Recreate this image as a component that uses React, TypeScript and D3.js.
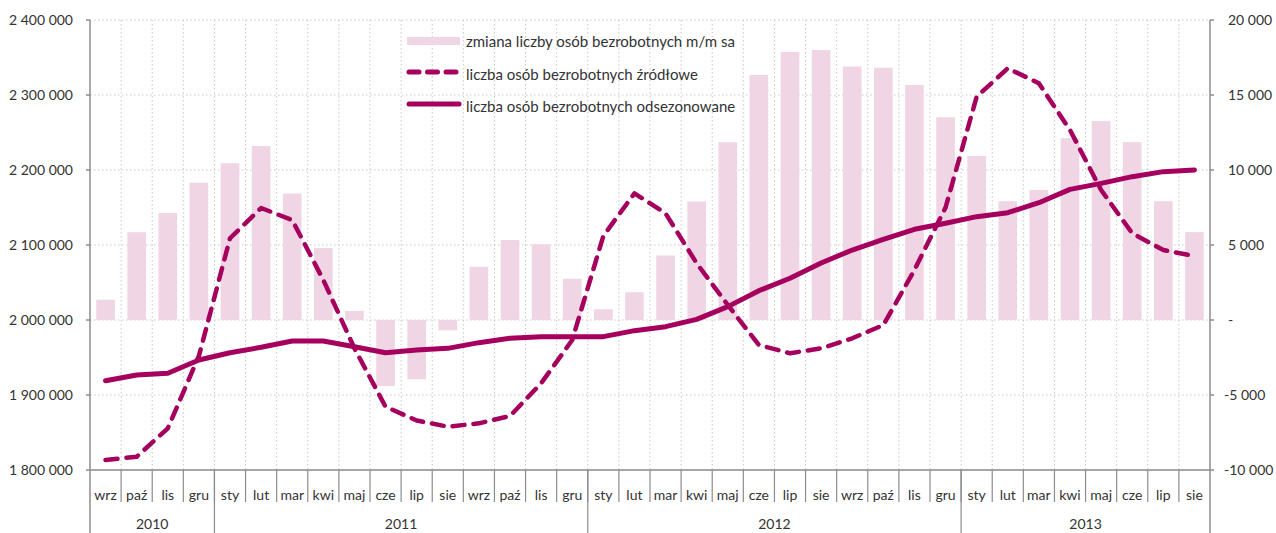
import React from "react";
import * as d3 from "d3";

const months = ["wrz","paź","lis","gru","sty","lut","mar","kwi","maj","cze","lip","sie","wrz","paź","lis","gru","sty","lut","mar","kwi","maj","cze","lip","sie","wrz","paź","lis","gru","sty","lut","mar","kwi","maj","cze","lip","sie"];
const years = [
  { label: "2010", start: 0, end: 4 },
  { label: "2011", start: 4, end: 16 },
  { label: "2012", start: 16, end: 28 },
  { label: "2013", start: 28, end: 36 },
];
// zmiana liczby osób bezrobotnych m/m sa (right axis)
const changeMM = [1350,5850,7130,9150,10450,11600,8430,4800,600,-4400,-3950,-690,3550,5330,5050,2750,720,1850,4300,7900,11850,16330,17870,18000,16900,16820,15670,13520,10940,7920,8670,12120,13260,11860,7920,5860];
// liczba osób bezrobotnych źródłowe (left axis)
const rawSeries = [1813300,1817700,1855600,1952000,2109000,2149300,2133300,2053300,1962200,1884400,1866000,1857800,1862200,1872000,1915600,1973300,2112000,2168900,2142200,2075600,2020000,1966700,1955600,1962200,1975600,1993300,2066700,2150000,2297800,2335600,2315600,2253300,2173300,2115600,2093300,2085300];
// liczba osób bezrobotnych odsezonowane (left axis)
const saSeries = [1919100,1926700,1928900,1946700,1956400,1963600,1972000,1972000,1964400,1956400,1960000,1962200,1969800,1975600,1977800,1977800,1977800,1985800,1991100,2000900,2017800,2039100,2055600,2076000,2093300,2107600,2120900,2128900,2137800,2143100,2156400,2174200,2182200,2191100,2197800,2200000];
const leftTicks = [1800000,1900000,2000000,2100000,2200000,2300000,2400000];
const rightTicks = [-10000,-5000,0,5000,10000,15000,20000];
const legendLabels = ["zmiana liczby osób bezrobotnych m/m sa","liczba osób bezrobotnych źródłowe","liczba osób bezrobotnych odsezonowane"];

const W = 1276, H = 533;
const L = 90, R = 1210, T = 20, B = 470;
const LINE = "#a6005f";
const BAR = "#f0d5e5";
const GRID = "#c8c8c8";
const AXIS = "#8c8c8c";
const TEXT = "#333333";
const FONT = "Lato, 'Open Sans', sans-serif";

const fmt = (v: number) => {
  if (v === 0) return "-";
  const s = Math.abs(v).toString().replace(/\B(?=(\d{3})+(?!\d))/g, " ");
  return (v < 0 ? "-" : "") + s;
};

export default function App() {
  const x = d3.scaleBand<number>().domain(d3.range(months.length)).range([L, R]).paddingInner(0).paddingOuter(0);
  const bw = x.bandwidth();
  const yL = d3.scaleLinear().domain([1800000, 2400000]).range([B, T]);
  const yR = d3.scaleLinear().domain([-10000, 20000]).range([B, T]);
  const cx = (i: number) => (x(i) as number) + bw / 2;
  const line = d3.line<number>().x((_, i) => cx(i)).y((d) => yL(d)).curve(d3.curveLinear);
  const barW = bw * 0.6;

  return (
    <svg width={W} height={H} style={{ position: "absolute", left: 0, top: 0, background: "#fff" }} fontFamily={FONT}>
      {/* grid */}
      {leftTicks.map((t) => (
        <line key={"h" + t} x1={L} x2={R} y1={yL(t)} y2={yL(t)} stroke={GRID} strokeWidth={1} strokeDasharray="1.5,2.5" />
      ))}
      {d3.range(1, months.length).map((i) => (
        <line key={"v" + i} x1={x(i) as number} x2={x(i) as number} y1={T} y2={B} stroke={GRID} strokeWidth={1} strokeDasharray="1.5,2.5" />
      ))}
      {/* bars */}
      {changeMM.map((v, i) => (
        <rect key={"b" + i} x={cx(i) - barW / 2} width={barW} y={Math.min(yR(v), yR(0))} height={Math.abs(yR(v) - yR(0))} fill={BAR} />
      ))}
      {/* lines */}
      <path d={line(rawSeries) || ""} fill="none" stroke={LINE} strokeWidth={4.5} strokeDasharray="12,9" strokeLinecap="round" strokeLinejoin="round" />
      <path d={line(saSeries) || ""} fill="none" stroke={LINE} strokeWidth={5} strokeLinecap="round" strokeLinejoin="round" />
      {/* axes */}
      <line x1={L} x2={L} y1={T} y2={H} stroke={AXIS} strokeWidth={1.5} />
      <line x1={R} x2={R} y1={T} y2={H} stroke={AXIS} strokeWidth={1.5} />
      <line x1={L} x2={R} y1={B} y2={B} stroke={AXIS} strokeWidth={1.5} />
      {leftTicks.map((t) => (
        <g key={"lt" + t}>
          <line x1={L - 4} x2={L} y1={yL(t)} y2={yL(t)} stroke={AXIS} strokeWidth={1.5} />
          <text x={L - 17} y={yL(t)} dy="0.35em" textAnchor="end" fontSize={14} fill={TEXT}>{fmt(t)}</text>
        </g>
      ))}
      {rightTicks.map((t) => (
        <g key={"rt" + t}>
          <line x1={R} x2={R + 4} y1={yR(t)} y2={yR(t)} stroke={AXIS} strokeWidth={1.5} />
          <text x={t < 0 ? R + 14 : R + 18} y={yR(t)} dy="0.35em" textAnchor="start" fontSize={14} fill={TEXT}>{fmt(t)}</text>
        </g>
      ))}
      {/* month ticks & labels */}
      {d3.range(1, months.length).map((i) => (
        <line key={"mt" + i} x1={x(i) as number} x2={x(i) as number} y1={B} y2={502} stroke={AXIS} strokeWidth={1.2} />
      ))}
      {months.map((m, i) => (
        <text key={"m" + i} x={cx(i)} y={495} dy="0.35em" textAnchor="middle" fontSize={14} fill={TEXT}>{m}</text>
      ))}
      {years.map((yr) => (
        <g key={yr.label}>
          {yr.start > 0 && <line x1={x(yr.start) as number} x2={x(yr.start) as number} y1={B} y2={H} stroke={AXIS} strokeWidth={1.2} />}
          <text x={((x(yr.start) as number) + (yr.end < months.length ? (x(yr.end) as number) : R)) / 2} y={524} dy="0.35em" textAnchor="middle" fontSize={14} fill={TEXT}>{yr.label}</text>
        </g>
      ))}
      {/* legend */}
      <g>
        <rect x={407} y={37} width={53} height={8} fill={BAR} />
        <text x={466} y={42} dy="0.35em" fontSize={15} fill={TEXT}>{legendLabels[0]}</text>
        <line x1={409} x2={457} y1={72} y2={72} stroke={LINE} strokeWidth={5} strokeDasharray="10,8.5" strokeLinecap="round" />
        <text x={466} y={75} dy="0.35em" fontSize={15} fill={TEXT}>{legendLabels[1]}</text>
        <line x1={409} x2={459} y1={104} y2={104} stroke={LINE} strokeWidth={5} strokeLinecap="round" />
        <text x={466} y={107} dy="0.35em" fontSize={15} fill={TEXT}>{legendLabels[2]}</text>
      </g>
    </svg>
  );
}
